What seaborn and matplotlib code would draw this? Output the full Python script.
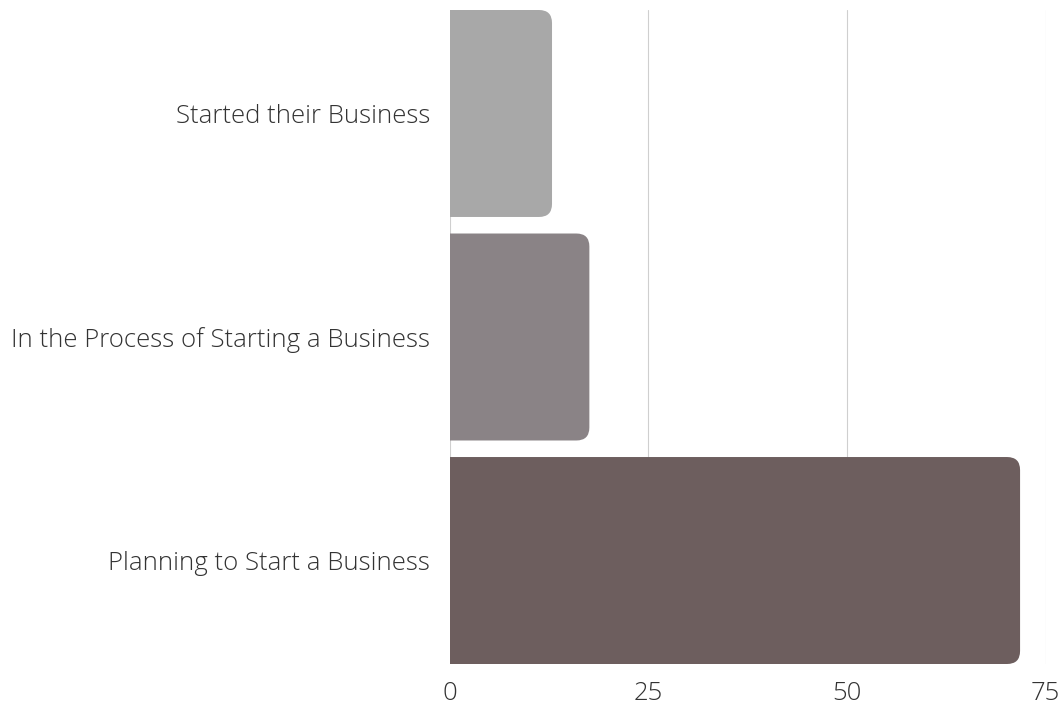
import matplotlib
matplotlib.use("Agg")
import matplotlib.pyplot as plt
import seaborn as sns
import pandas as pd
from matplotlib.patches import FancyBboxPatch

categories = ["Started their Business",
              "In the Process of Starting a Business",
              "Planning to Start a Business"]
values = [12.9, 17.6, 71.8]
colors = ["#a8a8a8", "#8a8386", "#6d5e5e"]
x_ticks = [0, 25, 50, 75]

df = pd.DataFrame({"category": categories, "value": values})

sns.set_theme(style="white")
plt.rcParams["font.family"] = ["Open Sans", "DejaVu Sans"]

W, H = 1059, 704
fig = plt.figure(figsize=(W / 100, H / 100), dpi=100)
ax_left, ax_right, ax_top, ax_bottom = 449.5, 1045.5, 10, 664
ax = fig.add_axes([ax_left / W, 1 - ax_bottom / H,
                   (ax_right - ax_left) / W, (ax_bottom - ax_top) / H])

bar_w = 0.926
sns.barplot(data=df, x="value", y="category", hue="category",
            palette=colors, width=bar_w, orient="h", legend=False,
            saturation=1, ax=ax)

ax.set_xlim(0, 75)
ax.set_ylim(2 + bar_w / 2, -bar_w / 2)

# vertical grid lines
for t in x_ticks:
    ax.axvline(t, color="#cfcfcf", lw=0.8, zorder=0)

# rounded right corners on each bar
px_per_x = (ax_right - ax_left) / 75
px_per_y = (ax_bottom - ax_top) / (2 + bar_w)
r_px = 13
r_x = r_px / px_per_x
aspect = px_per_x / px_per_y
for p in list(ax.patches):
    x0, y0 = p.get_x(), p.get_y()
    w, h = p.get_width(), p.get_height()
    fc = p.get_facecolor()
    p.set_visible(False)
    box = FancyBboxPatch((x0 - 3 * r_x, y0), w + 3 * r_x, h,
                         boxstyle=f"round,pad=0,rounding_size={r_x}",
                         mutation_aspect=aspect,
                         facecolor=fc, edgecolor="none", zorder=2,
                         clip_on=True)
    ax.add_patch(box)
    box.set_clip_path(ax.patch)

ax.set_xticks(x_ticks)
ax.set_xticklabels([str(t) for t in x_ticks])
for s in ax.spines.values():
    s.set_visible(False)
ax.tick_params(axis="both", length=0, labelsize=18.5, colors="#333333")
ax.tick_params(axis="y", pad=14)
ax.tick_params(axis="x", pad=12)
for lbl in ax.get_xticklabels() + ax.get_yticklabels():
    lbl.set_fontweight("light")
ax.set_xlabel("")
ax.set_ylabel("")

fig.savefig("out.png", dpi=100)
